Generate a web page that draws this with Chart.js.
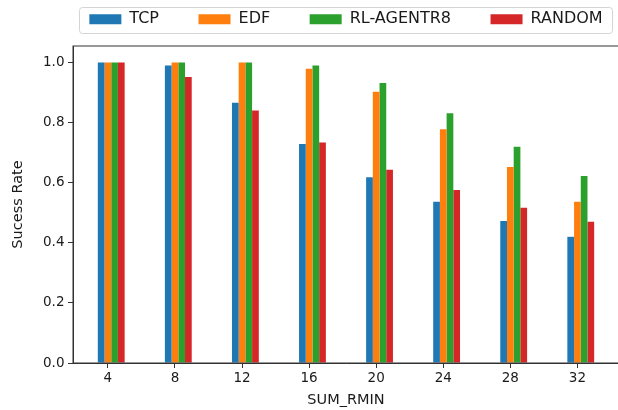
<!DOCTYPE html>
<html lang="en">
<head>
    <meta charset="UTF-8">
    <title>Sucess Rate vs SUM_RMIN</title>
    <style>
        html, body {
            margin: 0;
            padding: 0;
            background: #fff;
            overflow: hidden;
        }
        #wrap {
            width: 618px;
            height: 410px;
            overflow: hidden;
        }
        canvas {
            display: block;
        }
    </style>
</head>
<body>
    <div id="wrap"><canvas id="chart" width="624" height="410"></canvas></div>

    <script src="https://cdn.jsdelivr.net/npm/chart.js"></script>
    <script>
        // values
        const sumRmin = [4, 8, 12, 16, 20, 24, 28, 32];
        const tcp = [1.0, 0.99, 0.866, 0.729, 0.618, 0.537, 0.473, 0.42];
        const edf = [1.0, 1.0, 1.0, 0.979, 0.903, 0.778, 0.652, 0.537];
        const rlAgent = [1.0, 1.0, 1.0, 0.99, 0.932, 0.831, 0.72, 0.622];
        const random = [1.0, 0.952, 0.84, 0.734, 0.643, 0.576, 0.517, 0.47];
        const seriesNames = ['TCP', 'EDF', 'RL-AGENTR8', 'RANDOM'];
        const seriesColors = ['#1f77b4', '#ff7f0e', '#2ca02c', '#d62728'];
        const yTicks = [0, 0.2, 0.4, 0.6, 0.8, 1.0];

        const FONT = 'DejaVu Sans';
        const TEXT = '#1a1a1a';
        const AXIS = '#333';

        function toPoints(values) {
            return sumRmin.map((x, i) => ({ x: x, y: values[i] }));
        }

        // empty first slot so the groups sit like the original (orange on the tick)
        const datasets = [{
            label: '',
            data: sumRmin.map(x => ({ x: x, y: null })),
            backgroundColor: 'rgba(0,0,0,0)'
        }];
        [tcp, edf, rlAgent, random].forEach((values, i) => {
            datasets.push({
                label: seriesNames[i],
                data: toPoints(values),
                backgroundColor: seriesColors[i],
                borderWidth: 0
            });
        });

        // legend placed over the axes, with the matplotlib style frame
        const legendPlace = {
            id: 'legendPlace',
            afterLayout(chart) {
                const lg = chart.legend;
                const ca = chart.chartArea;
                lg.left = ca.left - 100;
                lg.right = ca.right + 100;
                lg.top = -28.3;
            },
            beforeDraw(chart) {
                const ca = chart.chartArea;
                const ctx = chart.ctx;
                ctx.save();
                ctx.beginPath();
                ctx.roundRect(ca.left + 6.5, 7.5, ca.right - ca.left - 13, 26, 3);
                ctx.fillStyle = '#fff';
                ctx.fill();
                ctx.strokeStyle = '#d4d4d4';
                ctx.lineWidth = 1;
                ctx.stroke();
                ctx.restore();
            }
        };

        const axesBox = {
            id: 'axesBox',
            afterDatasetsDraw(chart) {
                const ca = chart.chartArea;
                const ctx = chart.ctx;
                ctx.save();
                ctx.strokeStyle = AXIS;
                ctx.lineWidth = 1;
                ctx.strokeRect(ca.left, ca.top, ca.right - ca.left, ca.bottom - ca.top);
                ctx.restore();
            }
        };

        new Chart(document.getElementById('chart'), {
            type: 'bar',
            data: { datasets: datasets },
            options: {
                responsive: false,
                animation: false,
                devicePixelRatio: 1,
                layout: { padding: { left: 0, right: 5, top: 0, bottom: 0 } },
                datasets: {
                    bar: { categoryPercentage: 0.5, barPercentage: 1.0 }
                },
                plugins: {
                    tooltip: { enabled: false },
                    legend: {
                        position: 'top',
                        maxHeight: 46,
                        labels: {
                            filter: item => item.text !== '',
                            boxWidth: 32,
                            boxHeight: 10,
                            padding: 39.5,
                            color: TEXT,
                            font: { family: FONT, size: 16 }
                        }
                    }
                },
                scales: {
                    x: {
                        type: 'linear',
                        offset: false,
                        min: 1.92,
                        max: 34.48,
                        afterBuildTicks: s => { s.ticks = sumRmin.map(v => ({ value: v })); },
                        afterFit: s => { s.height = 47; },
                        grid: { offset: false, drawOnChartArea: false, drawTicks: true, tickLength: 5, color: AXIS },
                        border: { display: true, color: AXIS },
                        ticks: {
                            color: TEXT,
                            padding: 2.5,
                            maxRotation: 0,
                            autoSkip: false,
                            font: { family: FONT, size: 13.5 }
                        },
                        title: {
                            display: true,
                            text: 'SUM_RMIN',
                            color: TEXT,
                            font: { family: FONT, size: 14.5 },
                            padding: { top: 0, bottom: 1 }
                        }
                    },
                    y: {
                        min: 0,
                        max: 1.055,
                        afterBuildTicks: s => { s.ticks = yTicks.map(v => ({ value: v })); },
                        afterFit: s => { s.width = 73; },
                        grid: { drawOnChartArea: false, drawTicks: true, tickLength: 5, color: AXIS },
                        border: { display: true, color: AXIS },
                        ticks: {
                            color: TEXT,
                            padding: 3.5,
                            callback: v => v.toFixed(1),
                            font: { family: FONT, size: 13.5 }
                        },
                        title: {
                            display: true,
                            text: 'Sucess Rate',
                            color: TEXT,
                            font: { family: FONT, size: 14.5 },
                            padding: { top: 9.5, bottom: 0 }
                        }
                    }
                }
            },
            plugins: [legendPlace, axesBox]
        });
    </script>
</body>
</html>
